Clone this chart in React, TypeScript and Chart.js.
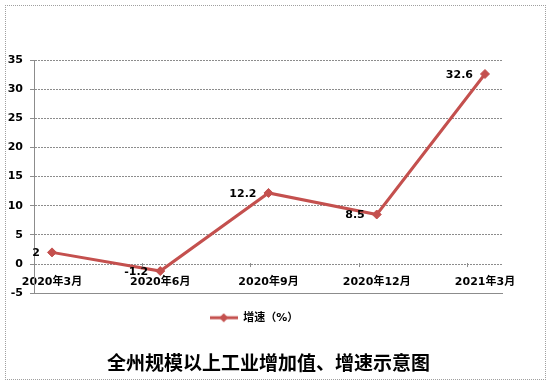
import React, { useEffect, useRef } from "react";
import { Chart, registerables } from "chart.js";

Chart.register(...registerables);

const categories = ["2020年3月", "2020年6月", "2020年9月", "2020年12月", "2021年3月"];
const growth = [2, -1.2, 12.2, 8.5, 32.6];
const seriesName = "增速（%）";
const chartTitle = "全州规模以上工业增加值、增速示意图";
const yTicks = { min: -5, max: 35, step: 5 };

const LINE_COLOR = "#c4504e";
const FONT = "'DejaVu Sans', 'Noto Sans CJK SC', sans-serif";
const EDGE = 0.1663;

function makeLegendIcon(): HTMLCanvasElement {
  const c = document.createElement("canvas");
  c.width = 28;
  c.height = 10;
  const g = c.getContext("2d")!;
  g.strokeStyle = LINE_COLOR;
  g.lineWidth = 3;
  g.beginPath();
  g.moveTo(0, 5);
  g.lineTo(28, 5);
  g.stroke();
  g.fillStyle = LINE_COLOR;
  g.beginPath();
  g.moveTo(14, 0.5);
  g.lineTo(18.5, 5);
  g.lineTo(14, 9.5);
  g.lineTo(9.5, 5);
  g.closePath();
  g.fill();
  return c;
}

const extrasPlugin = {
  id: "extras",
  afterDatasetsDraw(chart: any) {
    const ctx = chart.ctx;
    const xs = chart.scales.x;
    const ys = chart.scales.y;
    const y0 = ys.getPixelForValue(0);
    ctx.save();
    ctx.strokeStyle = "#8c8c8c";
    ctx.lineWidth = 1;
    for (let k = 1; k < categories.length; k++) {
      const px = Math.round(xs.getPixelForValue(k - EDGE)) + 0.5;
      ctx.beginPath();
      ctx.moveTo(px, y0 - 1);
      ctx.lineTo(px, y0 + 3);
      ctx.stroke();
    }
    const meta = chart.getDatasetMeta(0);
    ctx.fillStyle = "#000";
    ctx.font = `bold 11px ${FONT}`;
    ctx.textAlign = "right";
    ctx.textBaseline = "middle";
    meta.data.forEach((pt: any, i: number) => {
      ctx.fillText(String(growth[i]), pt.x - 12, pt.y + 1);
    });
    ctx.restore();
  },
};

export default function App() {
  const ref = useRef<HTMLCanvasElement>(null);
  useEffect(() => {
    const icon = makeLegendIcon();
    const chart = new Chart(ref.current!, {
      type: "line",
      data: {
        datasets: [
          {
            label: seriesName,
            data: growth.map((v, i) => ({ x: i, y: v })),
            borderColor: LINE_COLOR,
            backgroundColor: LINE_COLOR,
            borderWidth: 3,
            pointStyle: "rectRot",
            pointRadius: 4.5,
            pointBorderWidth: 1,
            pointBackgroundColor: LINE_COLOR,
            pointBorderColor: LINE_COLOR,
            tension: 0,
          },
        ],
      },
      options: {
        animation: false,
        responsive: false,
        layout: { padding: { left: 0, right: 43, top: 60, bottom: 8 } },
        scales: {
          x: {
            type: "linear",
            min: -EDGE,
            max: categories.length - 1 + EDGE,
            position: { y: 0 } as any,
            afterBuildTicks: (s: any) => {
              s.ticks = categories.map((_, i) => ({ value: i }));
            },
            ticks: {
              autoSkip: false,
              maxRotation: 0,
              padding: 11,
              color: "#000",
              font: { family: FONT, size: 11, weight: "bold" },
              callback: (v: any) => categories[Math.round(Number(v))] ?? "",
            },
            grid: { display: false, drawTicks: false },
            border: { display: false },
          },
          y: {
            min: yTicks.min,
            max: yTicks.max,
            afterFit: (s: any) => {
              s.width = 34;
            },
            ticks: {
              stepSize: yTicks.step,
              padding: 7,
              color: "#000",
              font: { family: FONT, size: 11, weight: "bold" },
            },
            grid: {
              color: "#8c8c8c",
              tickLength: 4,
              tickColor: "#8c8c8c",
            },
            border: {
              display: true,
              color: "#8c8c8c",
              dash: (ctx: any) => (ctx.tick && ctx.tick.value === yTicks.min ? [] : [2, 1]),
            } as any,
          },
          yRight: {
            type: "linear",
            position: "right",
            display: true,
            afterFit: (s: any) => {
              s.width = 5;
            },
            ticks: { display: false },
            grid: { display: false, drawTicks: false },
            border: { display: false },
          },
        },
        plugins: {
          legend: {
            position: "bottom",
            labels: {
              usePointStyle: true,
              pointStyleWidth: 28,
              color: "#000",
              font: { family: FONT, size: 11, weight: "bold" },
              boxHeight: 10,
              padding: 19,
              generateLabels: () => [
                {
                  text: seriesName,
                  pointStyle: icon,
                  fillStyle: LINE_COLOR,
                  strokeStyle: LINE_COLOR,
                  lineWidth: 0,
                  datasetIndex: 0,
                  hidden: false,
                  fontColor: "#000",
                },
              ],
            },
          },
          title: {
            display: true,
            position: "bottom",
            fullSize: false,
            text: chartTitle,
            color: "#000",
            font: { family: "'Noto Sans CJK SC', sans-serif", size: 19, weight: "bold" },
            padding: { top: 18.4, bottom: 2.6 },
          },
          tooltip: { enabled: false },
        },
      },
      plugins: [extrasPlugin],
    });
    return () => chart.destroy();
  }, []);

  return (
    <div style={{ position: "absolute", left: 0, top: 0, width: 551, height: 385, background: "#fff" }}>
      <div
        style={{
          position: "absolute",
          left: 5,
          top: 5,
          width: 539,
          height: 373,
          border: "1px dotted #a0a0a0",
        }}
      />
      <canvas ref={ref} width={551} height={385} style={{ position: "absolute", left: 0, top: 0 }} />
    </div>
  );
}
